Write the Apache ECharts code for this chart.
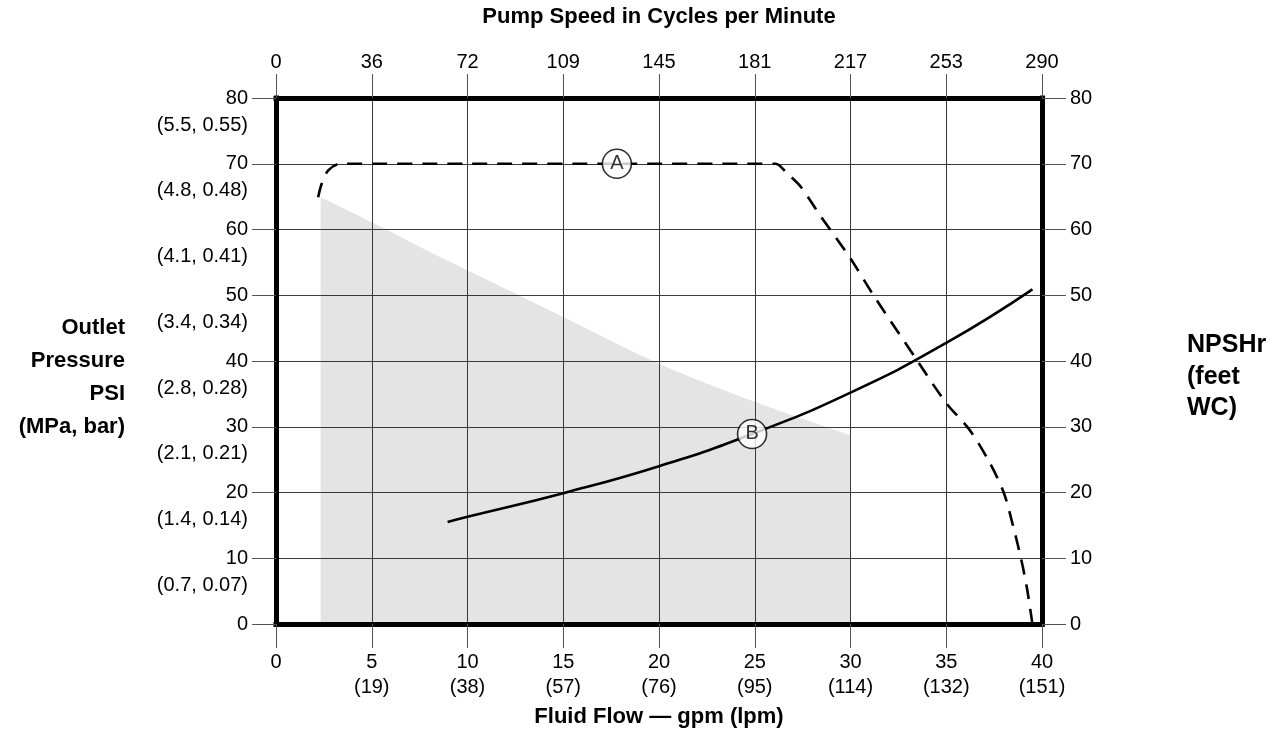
<!DOCTYPE html>
<html>
<head>
<meta charset="utf-8">
<title>Pump performance</title>
<script src="https://cdn.jsdelivr.net/npm/echarts@6/dist/echarts.min.js"></script>
<style>
  html, body { margin: 0; padding: 0; background: #fff; }
  #chart { width: 1286px; height: 755px; }
</style>
</head>
<body>
<div id="chart"></div>
<script>
// axis labels
const lpmLabels = ['', '(19)', '(38)', '(57)', '(76)', '(95)', '(114)', '(132)', '(151)']
const cpmLabels = ['0', '36', '72', '109', '145', '181', '217', '253', '290']
const psiSubLabels = ['', '(0.7, 0.07)', '(1.4, 0.14)', '(2.1, 0.21)', '(2.8, 0.28)',
  '(3.4, 0.34)', '(4.1, 0.41)', '(4.8, 0.48)', '(5.5, 0.55)']

// shaded operating region (gpm, psi)
const shadeFlow = [2.33, 5, 8.56, 10, 15, 20, 25, 30]
const shadePsi = [64.9, 61.1, 55.8, 53.8, 46.7, 39.6, 33.8, 28.7]

// curve A (dashed) - pressure
const curveAFlow = [2.2, 2.39, 2.73, 3.34, 10, 17.8, 25.5, 26.1, 26.7, 27.4, 28.4, 30, 31.2, 33.5, 35, 36.2, 37.2, 38.0, 38.5, 38.9, 39.2, 39.5]
const curveAPsi = [64.9, 67, 69, 70, 70, 70, 70, 70, 68.5, 66.5, 62.2, 55.6, 50, 40, 33.6, 29.6, 24.9, 20, 14.8, 10, 5.7, 0]

// curve B (solid) - NPSHr
const curveBFlow = [8.96, 10, 15, 20, 24.86, 30, 35, 39.5]
const curveBPsi = [15.5, 16.3, 19.9, 24.0, 28.9, 35.2, 42.75, 50.9]

// circled curve markers
const markerNames = ['A', 'B']
const markerFlow = [17.8, 24.86]
const markerPsi = [70, 28.9]

const zip = (xs, ys) => xs.map((x, i) => [x, ys[i]])
const FONT = '"Liberation Sans", Arial, sans-serif'

const chart = echarts.init(document.getElementById('chart'))

const frameLine = { show: true, onZero: false, lineStyle: { color: '#000', width: 5, cap: 'square' } }
const tickStyle = { show: true, inside: false, length: 24, lineStyle: { color: '#555', width: 1 } }

chart.setOption({
  animation: false,
  backgroundColor: '#fff',
  grid: { left: 276, right: 244, top: 98, bottom: 131, containLabel: false },
  xAxis: [
    {
      type: 'value', position: 'bottom', min: 0, max: 40, interval: 5, z: 3,
      axisLine: frameLine,
      axisTick: tickStyle,
      splitLine: { show: true, lineStyle: { color: '#3a3a3a', width: 1 } },
      axisLabel: {
        margin: 25.5, color: '#000', fontSize: 20, fontFamily: FONT, lineHeight: 25,
        verticalAlign: 'top', showMinLabel: true, showMaxLabel: true,
        formatter: v => lpmLabels[v / 5] ? v + '\n' + lpmLabels[v / 5] : String(v)
      }
    },
    {
      type: 'value', position: 'top', min: 0, max: 40, interval: 5, z: 3,
      axisLine: frameLine,
      axisTick: tickStyle,
      splitLine: { show: false },
      axisLabel: {
        margin: 26, color: '#000', fontSize: 20, fontFamily: FONT, lineHeight: 20,
        showMinLabel: true, showMaxLabel: true,
        formatter: v => cpmLabels[v / 5]
      }
    }
  ],
  yAxis: [
    {
      type: 'value', position: 'left', min: 0, max: 80, interval: 10, z: 3,
      axisLine: frameLine,
      axisTick: tickStyle,
      splitLine: { show: true, lineStyle: { color: '#3a3a3a', width: 1 } },
      axisLabel: {
        margin: 28, color: '#000', fontSize: 20, fontFamily: FONT,
        showMinLabel: true, showMaxLabel: true
      }
    },
    {
      type: 'value', position: 'right', min: 0, max: 80, interval: 10, z: 3,
      axisLine: frameLine,
      axisTick: tickStyle,
      splitLine: { show: false },
      axisLabel: { margin: 28, color: '#000', fontSize: 20, fontFamily: FONT, showMinLabel: true, showMaxLabel: true }
    },
    {
      // MPa / bar equivalents, sitting one line below each PSI label
      type: 'value', position: 'left', min: 0, max: 80, interval: 10, z: 3,
      axisLine: { show: false, onZero: false },
      axisTick: { show: false },
      splitLine: { show: false },
      axisLabel: {
        margin: 28, color: '#000', fontSize: 20, fontFamily: FONT,
        verticalAlign: 'top', lineHeight: 54,
        showMinLabel: true, showMaxLabel: true,
        formatter: v => psiSubLabels[v / 10]
      }
    }
  ],
  graphic: [
    {
      type: 'text', x: 659, y: 17,
      style: { text: 'Pump Speed in Cycles per Minute', fill: '#000', fontSize: 22, fontWeight: 'bold',
        fontFamily: FONT, align: 'center', verticalAlign: 'middle' }
    },
    {
      type: 'text', x: 659, y: 717,
      style: { text: 'Fluid Flow \u2014 gpm (lpm)', fill: '#000', fontSize: 22, fontWeight: 'bold',
        fontFamily: FONT, align: 'center', verticalAlign: 'middle' }
    },
    {
      type: 'text', x: 125, y: 377,
      style: { text: 'Outlet\nPressure\nPSI\n(MPa, bar)', fill: '#000', fontSize: 22, fontWeight: 'bold',
        lineHeight: 33, fontFamily: FONT, align: 'right', verticalAlign: 'middle' }
    },
    {
      type: 'text', x: 1187, y: 377,
      style: { text: 'NPSHr\n(feet\nWC)', fill: '#000', fontSize: 25, fontWeight: 'bold',
        lineHeight: 31.5, fontFamily: FONT, align: 'left', verticalAlign: 'middle' }
    }
  ],
  series: [
    {
      name: 'shade', type: 'line', z: 1, silent: true,
      data: zip(shadeFlow, shadePsi),
      showSymbol: false, smooth: 0.3,
      lineStyle: { width: 0 },
      areaStyle: { color: '#e4e4e4', opacity: 1 }
    },
    {
      name: 'A', type: 'line', z: 5,
      data: zip(curveAFlow, curveAPsi),
      showSymbol: false, smooth: 0.3,
      lineStyle: { color: '#000', width: 2.6, type: [15, 10] }
    },
    {
      name: 'B', type: 'line', z: 5,
      data: zip(curveBFlow, curveBPsi),
      showSymbol: false, smooth: true,
      lineStyle: { color: '#000', width: 2.6 }
    },
    {
      name: 'markers', type: 'scatter', z: 6,
      data: markerNames.map((n, i) => ({ name: n, value: [markerFlow[i], markerPsi[i]] })),
      symbol: 'circle', symbolSize: 29,
      itemStyle: { color: '#fff', borderColor: '#000', borderWidth: 1.6 },
      label: { show: true, position: 'inside', formatter: p => p.name, color: '#000',
        fontSize: 20, fontFamily: FONT }
    }
  ]
})
</script>
</body>
</html>
